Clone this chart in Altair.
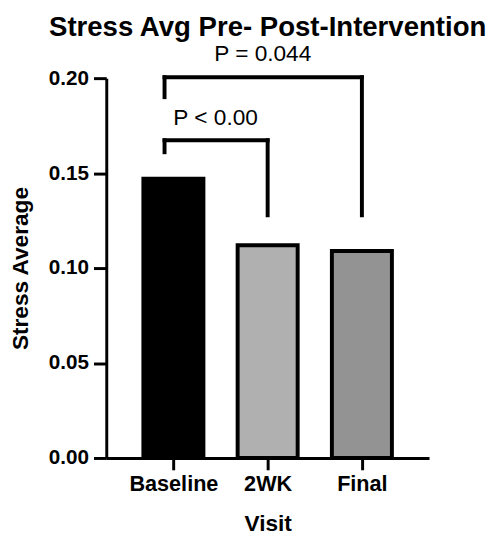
import json
import altair as alt
import pandas as pd

# ---- data ----
visits = ["Baseline", "2WK", "Final"]
stress = [0.147, 0.112, 0.109]
bar_colors = ["#000000", "#b0b0b0", "#939393"]

bracket_from = ["Baseline", "Baseline"]
bracket_to = ["2WK", "Final"]
bracket_top = [0.1673, 0.2005]
bracket_left_bottom = [0.161, 0.190]
bracket_right_bottom = [0.1278, 0.1278]
bracket_labels = ["P < 0.00", "P = 0.044"]

y_ticks = [0.0, 0.05, 0.10, 0.15, 0.20]

FONT = "Liberation Sans"

pos_of = {v: i for i, v in enumerate(visits)}

bars_df = pd.DataFrame({
    "visit": visits,
    "stress": stress,
    "pos": [pos_of[v] for v in visits],
    "color": bar_colors,
})

br_df = pd.DataFrame({
    "from": bracket_from,
    "to": bracket_to,
    "x1": [pos_of[v] for v in bracket_from],
    "x2": [pos_of[v] for v in bracket_to],
    "top": bracket_top,
    "lb": bracket_left_bottom,
    "rb": bracket_right_bottom,
    "label": bracket_labels,
})

x_scale = alt.Scale(domain=[-0.66, 2.66], nice=False, zero=False)
y_scale = alt.Scale(domain=[0, 0.2], nice=False)

label_expr = json.dumps(visits) + "[datum.value]"

bars = alt.Chart(bars_df).mark_bar(size=61, stroke="black", strokeWidth=4).encode(
    x=alt.X("pos:Q", scale=x_scale,
            axis=alt.Axis(title="Visit", values=[0, 1, 2], labelExpr=label_expr,
                          tickSize=12, labelPadding=4, titlePadding=19, grid=False,
                          labelFontSize=22)),
    y=alt.Y("stress:Q", scale=y_scale,
            axis=alt.Axis(title="Stress Average", values=y_ticks, format=".2f",
                          tickSize=13, labelPadding=5, titlePadding=16, grid=False,
                          labelFontSize=21)),
    color=alt.Color("color:N", scale=None),
)

rule_style = dict(color="black", strokeWidth=4, strokeCap="square")

top_line = alt.Chart(br_df).mark_rule(xOffset=-9, **rule_style).encode(
    x="x1:Q", x2="x2:Q", y="top:Q"
)
left_leg = alt.Chart(br_df).mark_rule(xOffset=-9, **rule_style).encode(
    x="x1:Q", y="top:Q", y2="lb:Q"
)
right_leg = alt.Chart(br_df).mark_rule(**rule_style).encode(
    x="x2:Q", y="top:Q", y2="rb:Q"
)
labels = alt.Chart(br_df).transform_calculate(
    mid="(datum.x1 + datum.x2) / 2"
).mark_text(font=FONT, fontSize=23, color="black", dy=-16, xOffset=-5,
            baseline="alphabetic", align="center").encode(
    x="mid:Q", y="top:Q", text="label:N"
)

chart = alt.layer(bars, top_line, left_leg, right_leg, labels).properties(
    width=328,
    height=386,
    background="white",
    title=alt.TitleParams("Stress Avg Pre- Post-Intervention", font=FONT, fontSize=28,
                          fontWeight="bold", color="black", frame="group",
                          anchor="middle", offset=2),
    padding={"left": 10, "top": 10, "right": 5, "bottom": 5},
).configure_view(stroke=None).configure_axis(
    domainColor="black", domainWidth=3, tickColor="black", tickWidth=3,
    labelFont=FONT, labelFontWeight="bold", labelColor="black",
    titleFont=FONT, titleFontSize=23, titleFontWeight="bold", titleColor="black",
    labelAngle=0,
)

chart.save("out.html", embed_options={"renderer": "svg", "actions": False})
